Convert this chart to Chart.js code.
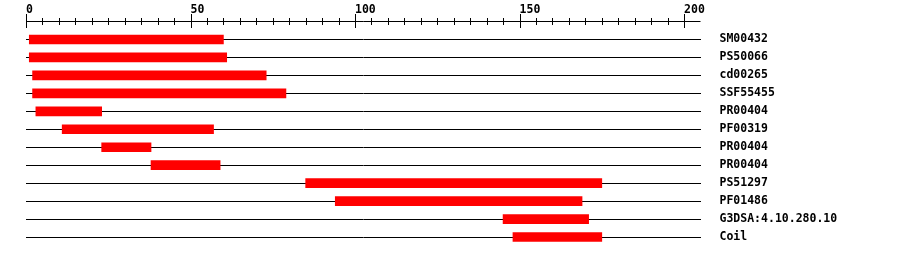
<!DOCTYPE html>
<html>
<head>
<meta charset="utf-8">
<script src="https://cdn.jsdelivr.net/npm/chart.js@4.4.0/dist/chart.umd.min.js"></script>
<style>
  html, body { margin: 0; padding: 0; background: #fff; overflow: hidden; }
  canvas { display: block; }
</style>
</head>
<body>
<canvas id="chart" width="900" height="256"></canvas>
<script>
// feature names (one row each)
const labels = ['SM00432', 'PS50066', 'cd00265', 'SSF55455', 'PR00404', 'PF00319',
  'PR00404', 'PR00404', 'PS51297', 'PF01486', 'G3DSA:4.10.280.10', 'Coil'];
// start / end positions of each match
const starts = [1, 1, 2, 2, 3, 11, 23, 38, 85, 94, 145, 148];
const ends = [60, 61, 73, 79, 23, 57, 38, 59, 175, 169, 171, 175];
// axis tick labels
const tickLabels = [0, 50, 100, 150, 200];
const minorStep = 5;

const monoFont = { family: '"DejaVu Sans Mono", "Liberation Mono", monospace', size: 11.5, weight: 'bold' };

// draws the ruler line with major/minor ticks above the rows
const rulerPlugin = {
  id: 'ruler',
  afterDraw(chart) {
    let ctx = chart.ctx;
    let x = chart.scales.x;
    let y = 21.5;
    ctx.save();
    ctx.strokeStyle = '#000';
    ctx.lineWidth = 1;
    ctx.beginPath();
    ctx.moveTo(Math.round(x.getPixelForValue(0)), y);
    ctx.lineTo(chart.chartArea.right, y);
    for (let v = 0; v <= tickLabels[tickLabels.length - 1]; v += minorStep) {
      let px = Math.round(x.getPixelForValue(v)) + 0.5;
      let major = tickLabels.includes(v);
      ctx.moveTo(px, major ? 14 : 18);
      ctx.lineTo(px, major ? 28 : 25);
    }
    ctx.stroke();
    ctx.restore();
  }
};

new Chart(document.getElementById('chart'), {
  type: 'bar',
  data: {
    labels: labels,
    datasets: [{
      data: starts.map((s, i) => [s, ends[i]]),
      backgroundColor: '#ff0000',
      borderWidth: 0,
      barThickness: 9
    }]
  },
  plugins: [rulerPlugin],
  options: {
    indexAxis: 'y',
    responsive: false,
    animation: false,
    devicePixelRatio: 1,
    layout: { padding: { left: 26, top: 0, right: 0, bottom: 10 } },
    plugins: { legend: { display: false }, tooltip: { enabled: false } },
    scales: {
      x: {
        position: 'top',
        min: 0,
        max: 205,
        afterBuildTicks: s => { s.ticks = tickLabels.map(v => ({ value: v })); },
        afterFit: s => { s.height = 30.5; },
        grid: { display: false, drawTicks: false },
        border: { display: false },
        ticks: {
          align: 'start',
          padding: 14,
          color: '#000',
          font: monoFont,
          maxRotation: 0,
          autoSkip: false
        }
      },
      y: {
        position: 'right',
        afterFit: s => { s.width = 199.5; s.paddingTop = 0; s.paddingBottom = 0; },
        grid: { offset: false, color: '#000', lineWidth: 1, drawTicks: false },
        border: { display: false },
        ticks: { padding: 19, color: '#000', font: monoFont, autoSkip: false }
      }
    }
  }
});
</script>
</body>
</html>
